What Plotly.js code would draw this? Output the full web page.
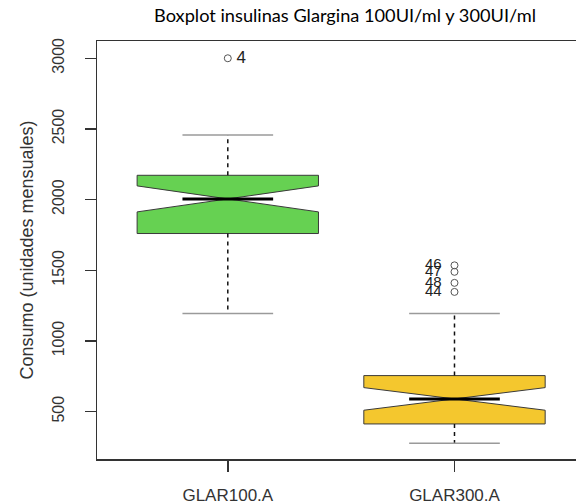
<!DOCTYPE html>
<html>
<head>
<meta charset="utf-8">
<script src="https://cdn.plot.ly/plotly-3.0.1.min.js"></script>
<style>
  html, body { margin: 0; padding: 0; background: #fff; overflow: hidden; }
  #chart { width: 576px; height: 504px; }
</style>
</head>
<body>
<div id="chart"></div>
<script>
// Monthly consumption of Glargine insulin, 100 UI/ml vs 300 UI/ml
const categories = ['GLAR100.A', 'GLAR300.A'];
const positions = [1, 2];
const q1 = [1760, 413];
const medians = [2005, 590];
const q3 = [2172, 755];
const lowerWhisker = [1195, 276];
const upperWhisker = [2457, 1195];
const notchHalf = [92, 80];
const outlierValues = [[3000], [1535, 1489, 1411, 1347]];
const outlierLabels = [['4'], ['46', '47', '48', '44']];
const yTicks = [500, 1000, 1500, 2000, 2500, 3000];

const fills = ['#66D152', '#F4C72E'];
const boxWidth = 0.8;
const stapleHalf = boxWidth * 0.25;   // caps and median are half the box width
const tickFont = { family: 'Liberation Sans, Arial, sans-serif', size: 16, color: '#333' };

const traces = [];

// notched boxes (whiskers drawn separately as dashed lines)
positions.forEach((p, i) => {
  traces.push({
    type: 'box',
    x: [p],
    q1: [q1[i]], median: [medians[i]], q3: [q3[i]],
    lowerfence: [q1[i]], upperfence: [q3[i]],
    notchspan: [notchHalf[i]],
    notched: true,
    notchwidth: 0.5,
    whiskerwidth: 0,
    width: boxWidth,
    fillcolor: fills[i],
    line: { color: '#3a3a3a', width: 1 },
    boxpoints: false,
    hoverinfo: 'skip',
    showlegend: false
  });
});

// dashed whiskers, caps and bold medians
positions.forEach((p, i) => {
  traces.push({
    type: 'scatter', mode: 'lines',
    x: [p, p, null, p, p],
    y: [q3[i], upperWhisker[i], null, q1[i], lowerWhisker[i]],
    line: { color: '#111', width: 1.5, dash: '4px,4px' },
    hoverinfo: 'skip', showlegend: false
  });
  traces.push({
    type: 'scatter', mode: 'lines',
    x: [p - stapleHalf, p + stapleHalf, null, p - stapleHalf, p + stapleHalf],
    y: [upperWhisker[i], upperWhisker[i], null, lowerWhisker[i], lowerWhisker[i]],
    line: { color: '#9a9a9a', width: 1.5 },
    hoverinfo: 'skip', showlegend: false
  });
  traces.push({
    type: 'scatter', mode: 'lines',
    x: [p - stapleHalf, p + stapleHalf],
    y: [medians[i], medians[i]],
    line: { color: '#000', width: 3 },
    hoverinfo: 'skip', showlegend: false
  });
});

// outliers with their case numbers
positions.forEach((p, i) => {
  traces.push({
    type: 'scatter', mode: 'markers+text',
    x: outlierValues[i].map(() => p),
    y: outlierValues[i],
    text: outlierLabels[i].map(t => i === 0 ? '\u2009' + t : t + '\u2002'),
    textposition: i === 0 ? 'middle right' : 'middle left',
    textfont: { family: 'Liberation Sans, Arial, sans-serif', size: i === 0 ? 17 : 15, color: '#222' },
    marker: { symbol: 'circle-open', size: 7, color: '#555', line: { width: 1 } },
    hoverinfo: 'skip', showlegend: false
  });
});

const layout = {
  width: 576, height: 504,
  margin: { l: 97, r: 0, t: 41, b: 45 },
  paper_bgcolor: '#fff', plot_bgcolor: '#fff',
  showlegend: false,
  title: {
    text: 'Boxplot insulinas Glargina 100UI/ml y 300UI/ml',
    font: { family: 'Lato, Open Sans, sans-serif', size: 18.2, color: '#000' },
    xref: 'container', x: 0.599, xanchor: 'center',
    yref: 'container', y: 0.968, yanchor: 'middle'
  },
  xaxis: {
    range: [0.423, 2.536],
    tickvals: positions, ticktext: categories,
    showgrid: false, zeroline: false,
    showline: true, mirror: true, linecolor: '#333', linewidth: 1.5,
    ticks: 'outside', ticklen: 11, tickwidth: 1.5, tickcolor: '#333',
    ticklabelstandoff: 9,
    tickfont: { family: 'Liberation Sans, Arial, sans-serif', size: 17, color: '#333' }
  },
  yaxis: {
    range: [165, 3122],
    tickvals: yTicks,
    tickangle: -90,
    showgrid: false, zeroline: false,
    showline: true, linecolor: '#333', linewidth: 1.5,
    ticks: 'outside', ticklen: 11, tickwidth: 1.5, tickcolor: '#333',
    ticklabelstandoff: 14,
    tickfont: tickFont,
    title: {
      text: 'Consumo (unidades mensuales)',
      font: { family: 'Liberation Sans, Arial, sans-serif', size: 18, color: '#333' },
      standoff: 12
    }
  }
};

Plotly.newPlot('chart', traces, layout, { displayModeBar: false, staticPlot: true });
</script>
</body>
</html>
